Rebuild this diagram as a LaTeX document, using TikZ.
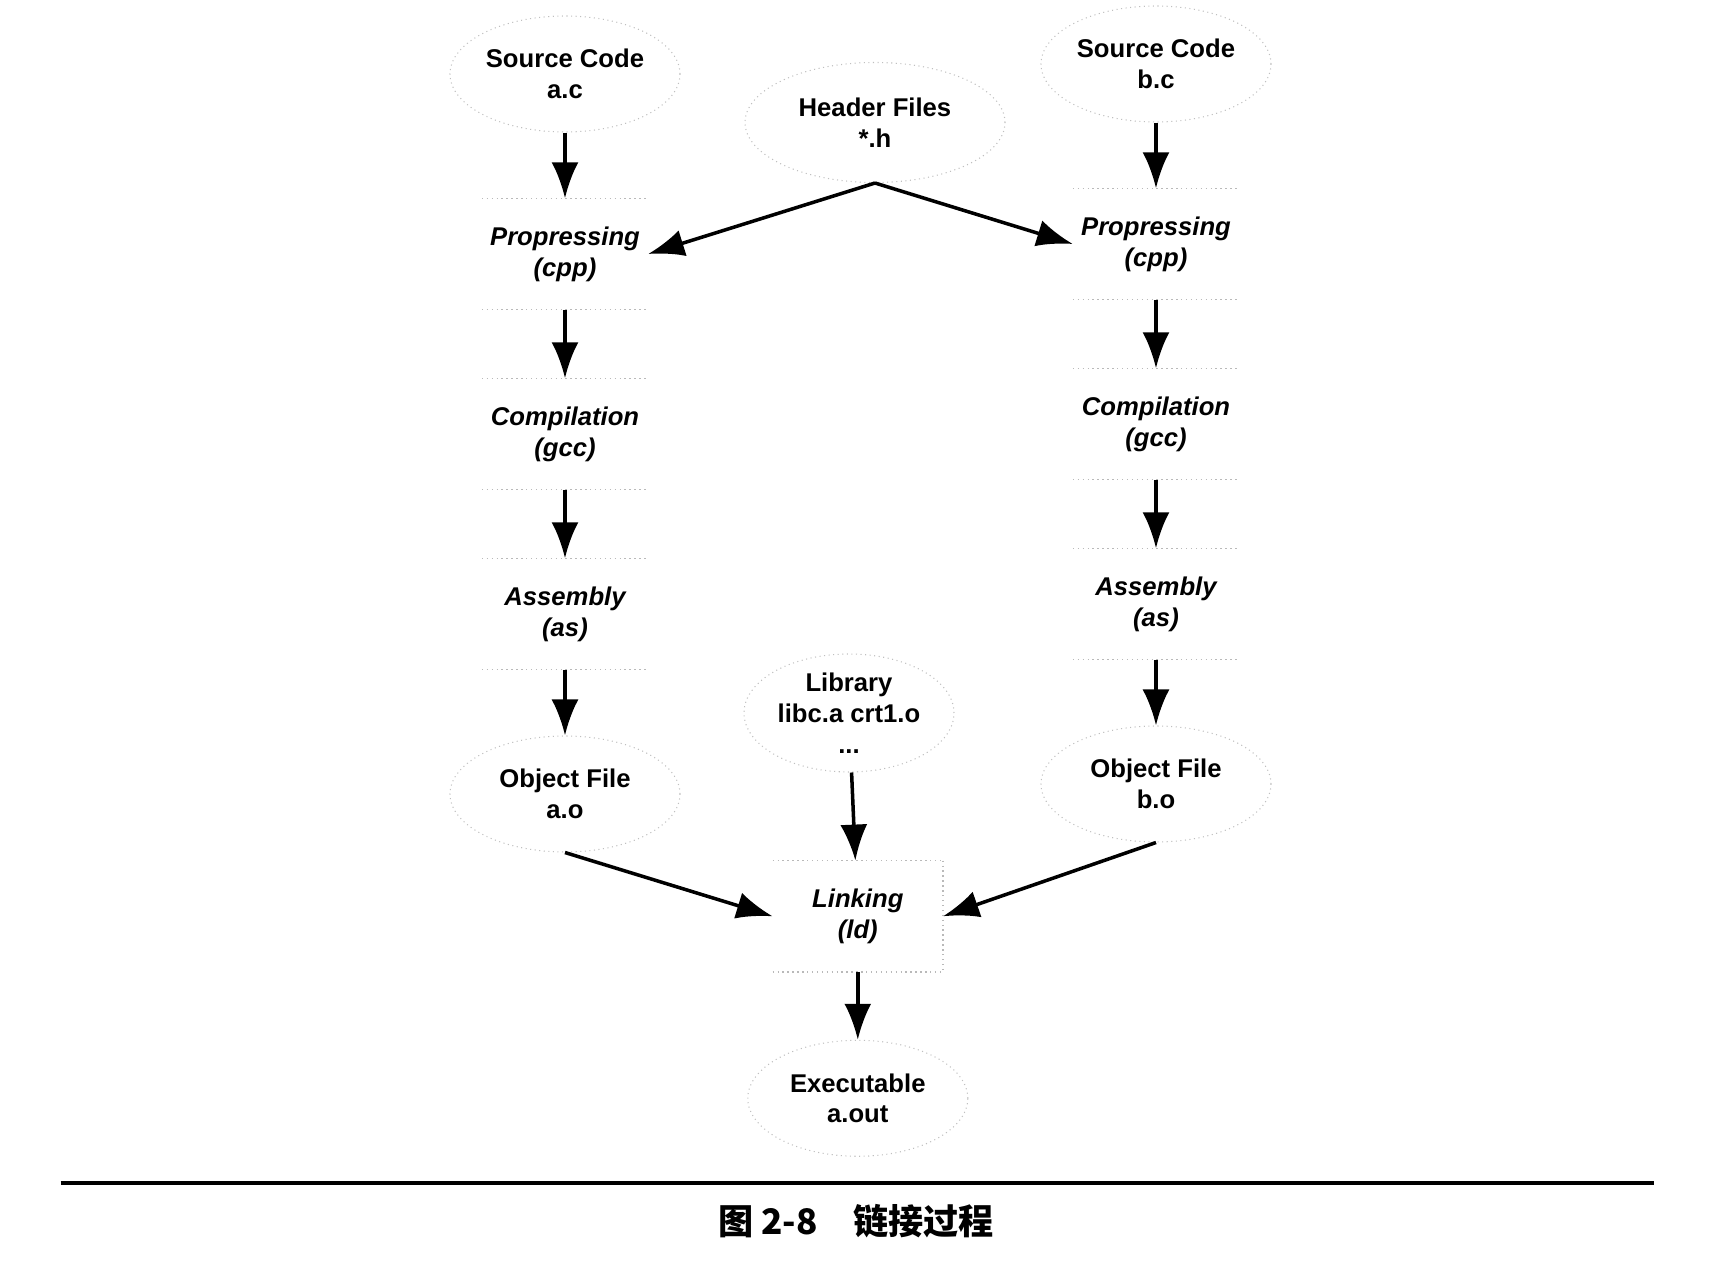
\documentclass[tikz,border=0pt]{standalone}
\usepackage{fontspec}
\setmainfont{Liberation Sans}
\newfontfamily\cjk{Noto Sans CJK SC}
\usepackage{tikz}
\usetikzlibrary{shapes,arrows.meta,positioning,calc}
\tikzstyle{file} = [ellipse, draw=gray!50, densely dotted, line width=0.3pt, minimum width=2.3cm, minimum height=1.16cm, inner sep=0pt, align=center, font=\fontsize{7.3}{8.8}\selectfont\bfseries]
\tikzstyle{stage} = [rectangle, minimum width=1.65cm, minimum height=1.1cm, inner sep=0pt, align=center, font=\fontsize{7.3}{8.8}\selectfont\bfseries\itshape]
\tikzstyle{line} = [draw, line width=1pt, -{Latex[length=3.6mm,width=2.7mm]}]
\tikzstyle{rule} = [draw=gray!55, densely dotted, line width=0.4pt]

\begin{document}
\begin{tikzpicture}[every node/.style={node distance=1.8cm}]
	\useasboundingbox (0,0) rectangle (17.22,-12.62);
	%Place nodes
	\node [file] (SrcA) at (5.65,-0.74) {Source Code\\a.c};
	\node [stage, below of=SrcA] (CppA) {Propressing\\(cpp)};
	\node [stage, below of=CppA] (GccA) {Compilation\\(gcc)};
	\node [stage, below of=GccA] (AsA) {Assembly\\(as)};
	\node [file, below of=AsA] (ObjA) {Object File\\a.o};

	\node [file] (SrcB) at (11.56,-0.64) {Source Code\\b.c};
	\node [stage, below of=SrcB] (CppB) {Propressing\\(cpp)};
	\node [stage, below of=CppB] (GccB) {Compilation\\(gcc)};
	\node [stage, below of=GccB] (AsB) {Assembly\\(as)};
	\node [file, below of=AsB] (ObjB) {Object File\\b.o};

	\node [file, minimum width=2.6cm, minimum height=1.2cm] (Header) at (8.75,-1.225) {Header Files\\*.h};
	\node [file, minimum width=2.1cm, minimum height=1.18cm] (Lib) at (8.49,-7.13) {Library\\libc.a crt1.o\\...};
	\node [stage, minimum width=1.69cm] (Link) at (8.578,-9.163) {Linking\\(ld)};
	\node [file, minimum width=2.2cm, below of=Link, node distance=1.82cm] (Exec) {Executable\\a.out};

	%Box edges
	\foreach \n in {CppA,GccA,AsA,CppB,GccB,AsB,Link}
		\path [rule] (\n.north west) -- (\n.north east) (\n.south west) -- (\n.south east);
	\path [rule] (Link.north east) -- (Link.south east);

	\path [line] (SrcA) -- (CppA);
	\path [line] (CppA) -- (GccA);
	\path [line] (GccA) -- (AsA);
	\path [line] (AsA) -- (ObjA);
	\path [line] (SrcB) -- (CppB);
	\path [line] (CppB) -- (GccB);
	\path [line] (GccB) -- (AsB);
	\path [line] (AsB) -- (ObjB);
	\path [line] (Header.south) -- (CppA.east);
	\path [line] (Header.south) -- (CppB.west);
	\path [line] (ObjA.south) -- (Link.west);
	\path [line] (ObjB.south) -- (Link.east);
	\path [line] (Lib) -- (Link);
	\path [line] (Link) -- (Exec);

	%Caption
	\draw [line width=1pt] (0.607,-11.83) -- (16.54,-11.83);
	\node (Caption) at (8.56,-12.21) {\cjk\bfseries\fontsize{10}{12}\selectfont 图 2-8\quad 链接过程};
\end{tikzpicture}
\end{document}
